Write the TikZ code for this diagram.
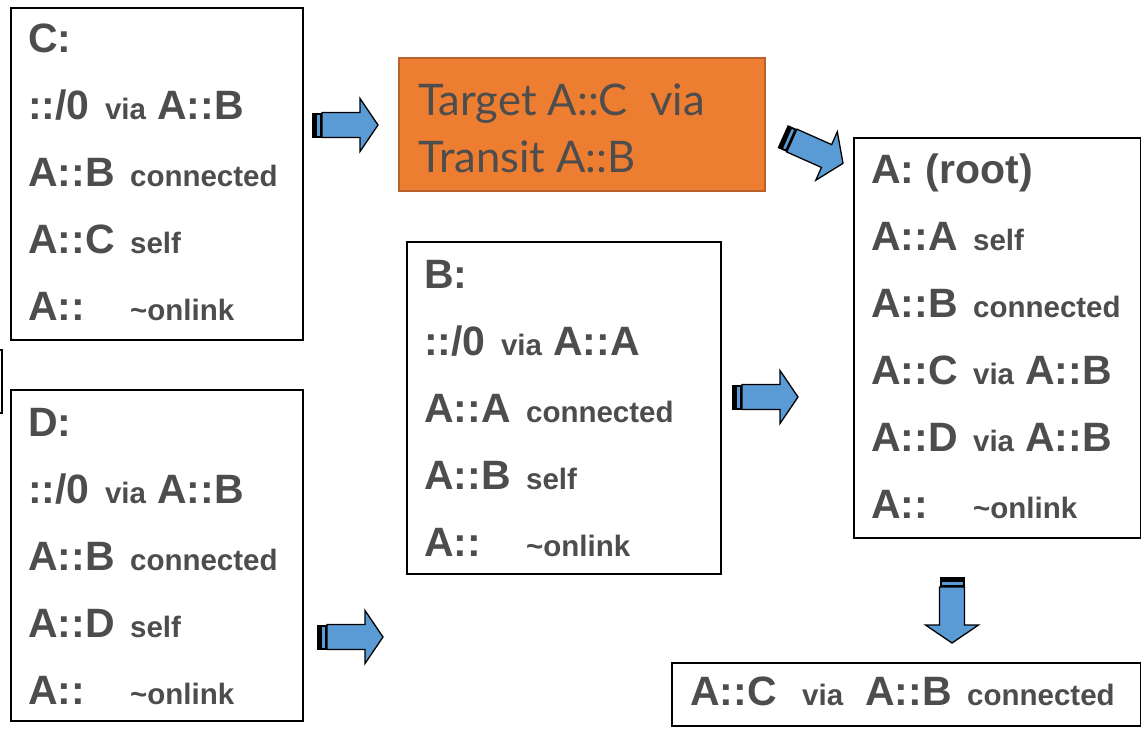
\documentclass[tikz,border=0pt]{standalone}
\usepackage{fontspec}
\setmainfont{Liberation Sans}
\newfontfamily\latofont{Lato}
\definecolor{txtgray}{HTML}{4D4D4D}
\definecolor{arrowblue}{HTML}{5B9BD5}
\definecolor{tgtfill}{HTML}{ED7D31}
\definecolor{tgtline}{HTML}{B8612A}
% large and small text runs inside the route tables
\newcommand\Lt[1]{{\fontsize{41}{67}\selectfont\bfseries #1}}
\newcommand\Sm[1]{{\fontsize{29.5}{67}\selectfont\bfseries #1}}
% a large prefix followed by its small annotation
\newcommand\Ent[2]{\Lt{#1 }\hspace{4pt}\Sm{#2}}
% a prefix routed via a next hop
\newcommand\Via[2]{\Lt{#1 }\hspace{4pt}\Sm{via }\hspace{3pt}\Lt{#2}}
\newcommand\pfx[1]{\makebox[102pt][l]{\Lt{#1}}}
\newcommand\topstrut{\rule{0pt}{30pt}}
\tikzset{
  tablebox/.style={draw=black, line width=1.6pt, fill=white, rectangle,
    inner sep=0pt, anchor=north west},
  tablelist/.style={anchor=north west, inner sep=0pt, align=left,
    text=txtgray, font=\fontsize{41}{67}\selectfont\bfseries},
  striparrow/.pic={
    \fill[black] (0,-12.5) rectangle (10,12.5);
    \fill[arrowblue] (5.2,-10.5) rectangle (7.8,10.5);
    \filldraw[fill=arrowblue, draw=black, line width=1.3pt, line join=miter]
      (10,-12.5) -- (48,-12.5) -- (48,-26.5) -- (66,0) -- (48,26.5)
      -- (48,12.5) -- (10,12.5) -- cycle;
  }
}
\begin{document}
\begin{tikzpicture}[x=1pt, y=-1pt]
\useasboundingbox (0,0) rectangle (1141,731);
\clip (0,0) rectangle (1141,731);
\fill[white] (0,0) rectangle (1141,731);

% edge of a further table at the far left
\node[tablebox, minimum width=40, minimum height=63] (prev) at (-39,349) {};

% node C
\node[tablebox, minimum width=292, minimum height=332] (C) at (10,7) {};
\node[tablelist] (Ctab) at (28,22) {\topstrut C:\\
\Via{::/0}{A::B}\\
\Ent{A::B}{connected}\\
\Ent{A::C}{self}\\
\pfx{A::}\Sm{\textasciitilde onlink}};

% node D
\node[tablebox, minimum width=292, minimum height=331] (D) at (10,389) {};
\node[tablelist] (Dtab) at (28,406) {\topstrut D:\\
\Via{::/0}{A::B}\\
\Ent{A::B}{connected}\\
\Ent{A::D}{self}\\
\pfx{A::}\Sm{\textasciitilde onlink}};

% node B
\node[tablebox, minimum width=314, minimum height=332] (B) at (406,241) {};
\node[tablelist] (Btab) at (424,258) {\topstrut B:\\
\Via{::/0}{A::A}\\
\Ent{A::A}{connected}\\
\Ent{A::B}{self}\\
\pfx{A::}\Sm{\textasciitilde onlink}};

% node A (root)
\node[tablebox, minimum width=287, minimum height=400] (A) at (853,137) {};
\node[tablelist] (Atab) at (871,153) {\topstrut A: (root)\\
\Ent{A::A}{self}\\
\Ent{A::B}{connected}\\
\Via{A::C}{A::B}\\
\Via{A::D}{A::B}\\
\pfx{A::}\Sm{\textasciitilde onlink}};

% resulting route
\node[tablebox, minimum width=469, minimum height=63] (R) at (671,662) {};
\node[tablelist] (Rtab) at (690,675) {\topstrut\makebox[112pt][l]{\Lt{A::C}}\makebox[63pt][l]{\Sm{via}}\makebox[102pt][l]{\Lt{A::B}}\Sm{connected}};

% target / transit note
\node[draw=tgtline, fill=tgtfill, line width=1.6pt, rectangle, inner sep=0pt,
  anchor=north west, minimum width=366, minimum height=133] (T) at (398,57) {};
\node[anchor=north west, inner sep=0pt, align=left, text=txtgray,
  font=\latofont\fontsize{43.5}{57}\selectfont] (Ttxt) at (418,83)
  {\rule{0pt}{32pt}Target A::C\ \ via\\Transit A::B};

% block arrows
\pic at (312,125) {striparrow};
\pic[rotate=-24] at (782.7,136.5) {striparrow};
\pic at (732,397) {striparrow};
\pic at (317,637) {striparrow};
\pic[rotate=-90] at (952,577) {striparrow};
\end{tikzpicture}
\end{document}
